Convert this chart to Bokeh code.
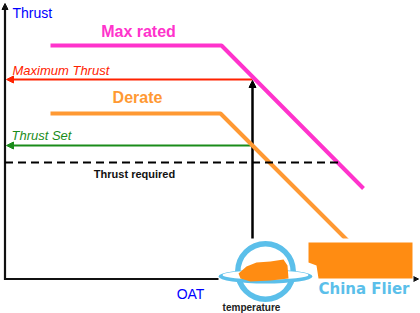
from bokeh.plotting import figure
from bokeh.models import Range1d, Arrow, NormalHead
from bokeh.embed import file_html
from bokeh.resources import INLINE
from bokeh.core.properties import value

# Schematic thrust vs. outside air temperature, chart units (x = OAT, y = thrust)
max_rated_oat = [50, 221, 363]
max_rated_thrust = [268, 268, 125]
derate_oat = [50, 220, 362]
derate_thrust = [200, 200, 58]

max_thrust_level = 234
thrust_set_level = 168
thrust_required_level = 151
thrust_required_end = 338
flat_rated_oat = 252

axis_x0, axis_y0 = 4.5, 34.5
axis_x_end, axis_y_end = 418, 310

FONT = "Liberation Sans"

p = figure(width=420, height=313, x_range=Range1d(0, 420), y_range=Range1d(0, 313),
           x_axis_type=None, y_axis_type=None, min_border=0,
           outline_line_color=None, toolbar_location=None, output_backend="svg")
p.grid.visible = False
p.background_fill_color = "white"
p.border_fill_color = "white"

# axes with arrow heads (kept beneath the logo)
for xs, ys, xe, ye in [(axis_x0, axis_y0 - 1, axis_x0, axis_y_end),
                       (axis_x0 - 1, axis_y0, axis_x_end, axis_y0)]:
    p.add_layout(Arrow(x_start=xs, y_start=ys, x_end=xe, y_end=ye,
                       line_color="#111111", line_width=2.2, level="underlay",
                       end=NormalHead(size=6, fill_color="#111111", line_color="#111111")))

# thrust lines
p.line(max_rated_oat, max_rated_thrust, line_color="#ff33cc", line_width=4)
p.line(derate_oat, derate_thrust, line_color="#ff9933", line_width=4)

p.line([axis_x0, thrust_required_end], [thrust_required_level] * 2,
       line_color="black", line_width=2, line_dash="8 5")

for level, color in [(max_thrust_level, "#ff2200"), (thrust_set_level, "#1a8c1a")]:
    p.add_layout(Arrow(x_start=flat_rated_oat, y_start=level, x_end=axis_x0 + 1.5, y_end=level,
                       line_color=color, line_width=2, level="underlay",
                       end=NormalHead(size=7, fill_color=color, line_color=color)))

p.add_layout(Arrow(x_start=flat_rated_oat, y_start=axis_y0, x_end=flat_rated_oat, y_end=max_thrust_level - 1,
                   line_color="black", line_width=2.5, level="underlay",
                   end=NormalHead(size=7, fill_color="black", line_color="black")))

# labels
labels = [
    ("Thrust", 12, 301, "left", "normal", 14, "#0000ff"),
    ("Max rated", 138, 282, "center", "bold", 16, "#ff33cc"),
    ("Maximum Thrust", 12, 243, "left", "italic", 13, "#ff2200"),
    ("Derate", 137, 216, "center", "bold", 16, "#ff9933"),
    ("Thrust Set", 11, 178, "left", "italic", 13, "#1a8c1a"),
    ("Thrust required", 134, 140, "center", "bold", 11, "#111111"),
    ("OAT", 190, 20, "center", "normal", 14, "#0000ff"),
    ("temperature", 251, 6, "center", "bold", 10, "#222222"),
]
for txt, x, y, align, style, size, color in labels:
    p.text(x=[x], y=[y], text=[txt], text_align=align, text_baseline="alphabetic",
           text_font=value(FONT), text_font_style=style,
           text_font_size=f"{size}px", text_color=color)

# site logo in the lower right corner
p.quad(left=218, right=413, bottom=12, top=75, fill_color="white", line_color=None)
p.annulus(x=265, y=42, inner_radius=25, outer_radius=30.5, fill_color="#5bbfea", line_color=None)
p.ellipse(x=265, y=37, width=94, height=14, fill_color="#5bbfea", line_color=None)
p.ellipse(x=265, y=38.5, width=86, height=9, fill_color="white", line_color=None)
p.patch([238, 246, 256, 270, 283, 287, 288, 270, 250, 240],
        [40, 47, 51, 52, 54, 48, 35, 33, 32, 35],
        fill_color="#ff8c12", line_color=None)
p.patch([308, 412, 412, 318, 316, 308], [71, 71, 35, 35, 48, 51],
        fill_color="#ff8c12", line_color=None)
p.text(x=[318], y=[25], text=["China Flier"], text_align="left", text_baseline="alphabetic",
       text_font=value("DejaVu Sans"), text_font_style="bold", text_font_size="15px",
       text_color="#5bbfea")

open("out.html", "w").write(file_html(p, INLINE))
